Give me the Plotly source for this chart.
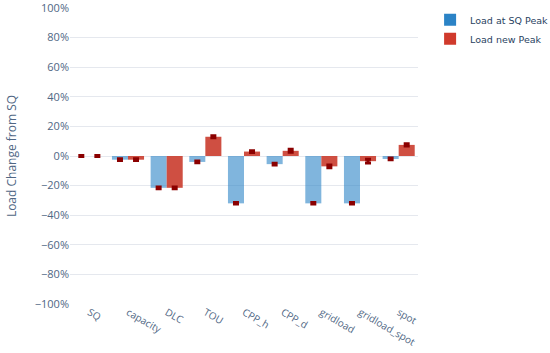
import plotly.graph_objects as go

categories = ["SQ", "capacity", "DLC", "TOU", "CPP_h", "CPP_d", "gridload", "gridload_spot", "spot"]
load_sq_peak = [0.0, -2.5, -21.5, -4.0, -32.0, -5.5, -32.0, -32.0, -2.0]
load_new_peak = [0.0, -2.5, -21.5, 13.0, 3.0, 3.5, -7.0, -3.5, 7.5]
err_sq_peak = [0.4, 0.6, 0.6, 0.6, 0.5, 0.6, 0.5, 0.5, 0.6]
err_new_peak = [0.4, 0.6, 0.6, 0.7, 0.6, 1.0, 0.9, 1.3, 0.7]
y_ticks = [-100, -80, -60, -40, -20, 0, 20, 40, 60, 80, 100]
y_tick_labels = ["−100%", "−80%", "−60%", "−40%", "−20%", "0%", "20%", "40%", "60%", "80%", "100%"]

blue = "#2b83c6"
red = "#d03a2c"
err_col = "#8b0000"

fig = go.Figure()
fig.add_trace(go.Bar(
    x=categories, y=load_sq_peak, name="Load at SQ Peak", showlegend=False,
    marker=dict(color="rgba(43,131,198,0.6)", line=dict(width=0)),
    error_y=dict(type="data", array=err_sq_peak, color=err_col, thickness=3, width=3),
))
fig.add_trace(go.Bar(
    x=categories, y=load_new_peak, name="Load new Peak", showlegend=False,
    marker=dict(color="rgba(200,55,40,0.88)", line=dict(width=0)),
    error_y=dict(type="data", array=err_new_peak, color=err_col, thickness=3, width=3),
))
# legend entries (solid swatches)
fig.add_trace(go.Scatter(x=[None], y=[None], mode="markers", name="Load at SQ Peak",
                         marker=dict(symbol="square", size=12, color=blue)))
fig.add_trace(go.Scatter(x=[None], y=[None], mode="markers", name="Load new Peak",
                         marker=dict(symbol="square", size=12, color=red)))

fig.update_layout(
    template="plotly_white",
    width=550, height=353,
    margin=dict(l=70, r=132, t=8, b=49),
    barmode="group", bargap=0.17, bargroupgap=0,
    font=dict(family="Open Sans", size=11, color="#506784"),
    legend=dict(xref="container", yref="container", x=0.782, y=0.985,
                xanchor="left", yanchor="top",
                font=dict(family="DejaVu Sans", size=9.5, color="#2a3f5f"),
                itemwidth=30, tracegroupgap=0),
    yaxis=dict(range=[-100, 100], tickmode="array", tickvals=y_ticks, ticktext=y_tick_labels,
               automargin=False, ticklabeloverflow="allow",
               title=dict(text="Load Change from SQ", font=dict(size=12, color="#506784"), standoff=15),
               gridcolor="#e5e8ee", zeroline=False),
    xaxis=dict(tickangle=30, showgrid=False, tickfont=dict(size=10), automargin=False),
)
fig.write_html("out.html", config={"displayModeBar": False},
               post_script="document.body.style.margin='0';document.body.style.overflow='hidden';")
